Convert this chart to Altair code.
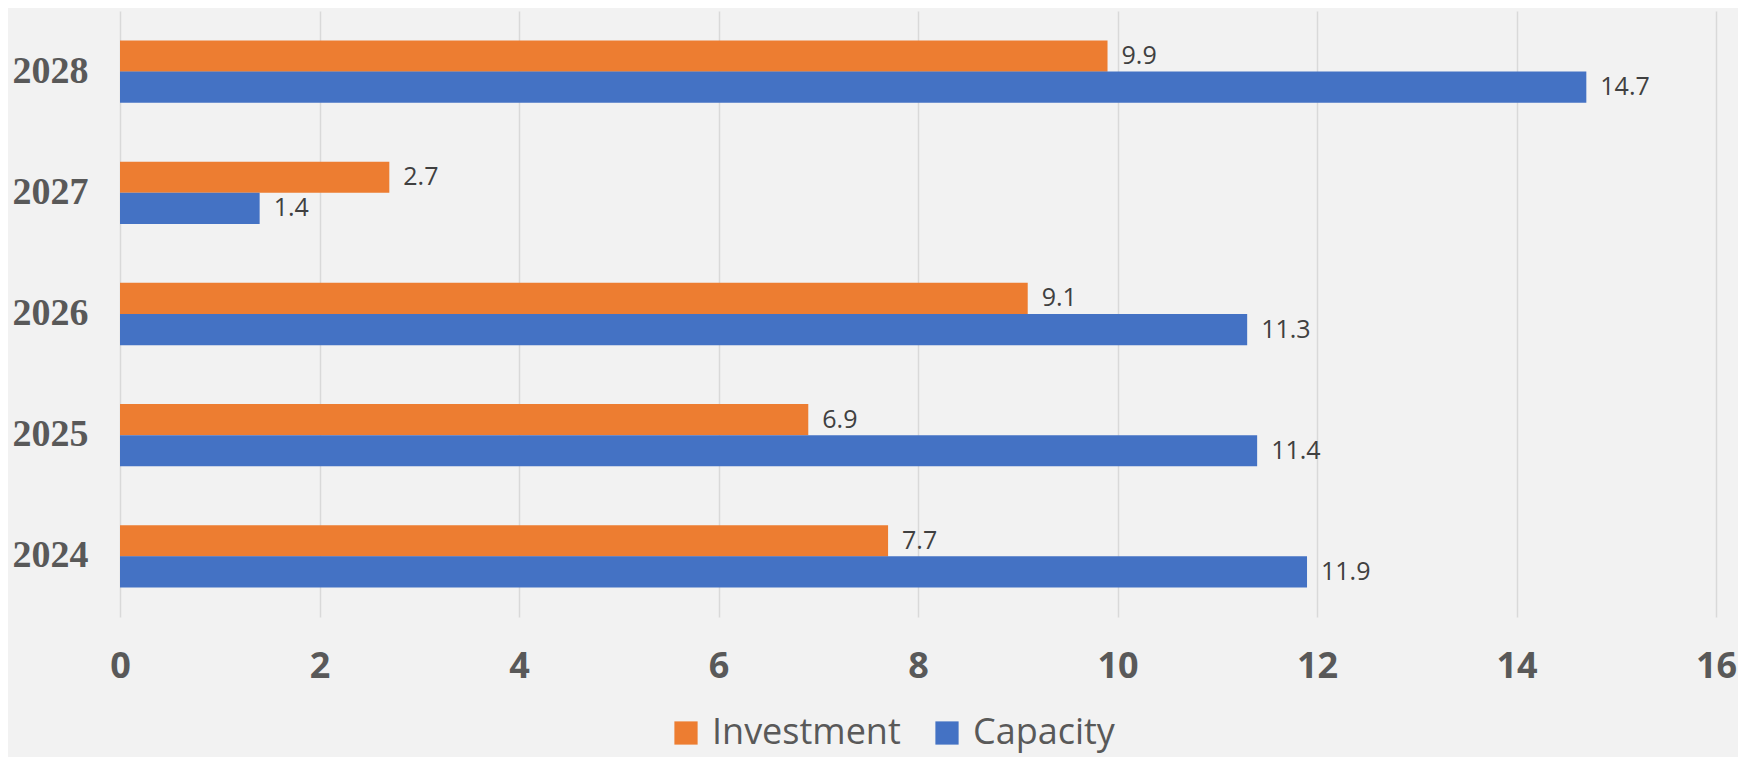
import altair as alt
import pandas as pd

years = ["2024", "2025", "2026", "2027", "2028"]
investment = [7.7, 6.9, 9.1, 2.7, 9.9]
capacity = [11.9, 11.4, 11.3, 1.4, 14.7]
series = ["Investment", "Capacity"]
colors = ["#ED7D31", "#4472C4"]
x_ticks = [0, 2, 4, 6, 8, 10, 12, 14, 16]

rows = []
for i, y in enumerate(years):
    rows.append({"year": y, "series": "Investment", "value": investment[i]})
    rows.append({"year": y, "series": "Capacity", "value": capacity[i]})
df = pd.DataFrame(rows)

year_order = list(reversed(years))

base = alt.Chart(df).encode(
    y=alt.Y("year:N", sort=year_order,
            scale=alt.Scale(paddingInner=0.486, paddingOuter=0.243),
            axis=alt.Axis(title=None, labelFont="Liberation Serif", labelFontWeight="bold",
                          labelFontSize=38, labelColor="#595959", labelPadding=32,
                          ticks=False, domain=False, grid=False)),
    yOffset=alt.YOffset("series:N", sort=series, scale=alt.Scale(paddingInner=0, paddingOuter=0)),
    x=alt.X("value:Q", scale=alt.Scale(domain=[0, 16], nice=False, zero=True),
            axis=alt.Axis(title=None, values=x_ticks, format="d", labelFont="Open Sans",
                          labelFontWeight="bold", labelFontSize=36, labelColor="#595959",
                          labelPadding=32, ticks=False, domain=False, grid=True,
                          gridColor="#d9d9d9", gridWidth=1.5, labelFlush=False)),
)

bars = base.mark_bar(size=31.2).encode(
    color=alt.Color("series:N", sort=series,
                    scale=alt.Scale(domain=series, range=colors),
                    legend=alt.Legend(title=None, orient="none", direction="horizontal",
                                      legendX=548, legendY=704, symbolType="square",
                                      symbolSize=540, symbolStrokeWidth=0,
                                      labelFont="Open Sans", labelFontSize=36,
                                      labelColor="#595959", labelOffset=8,
                                      columnPadding=28, labelLimit=400, padding=0)),
)

labels = base.mark_text(align="left", baseline="middle", dx=14, font="Open Sans",
                        fontSize=25, color="#404040").encode(
    text=alt.Text("value:Q", format=".1f"))

chart = (bars + labels).properties(
    width=1596, height=606,
    autosize=alt.AutoSizeParams(type="none"),
    padding={"left": 112, "top": 3, "right": 22, "bottom": 140},
    background="#f2f2f2",
).configure_view(
    stroke=None,
)

chart.save("out.html", embed_options={"renderer": "svg", "actions": False})
